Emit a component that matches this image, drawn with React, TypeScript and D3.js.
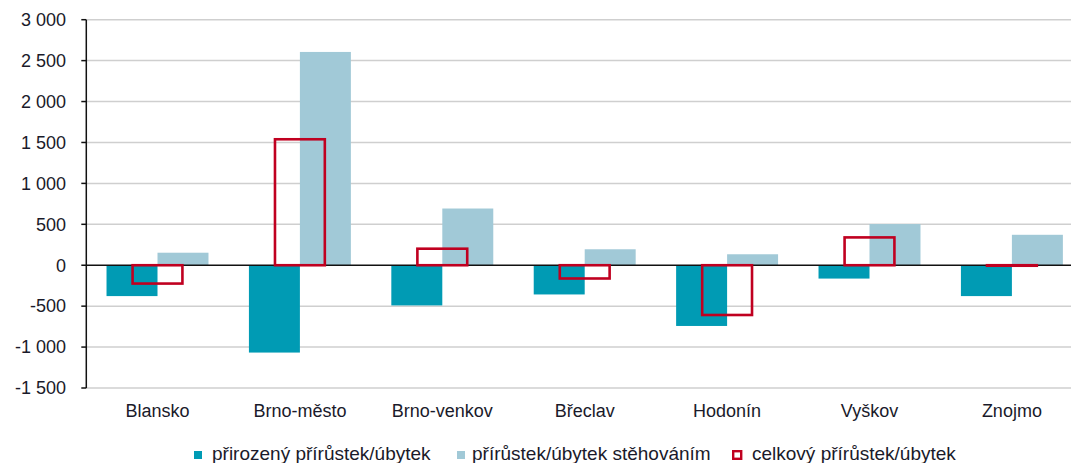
import React from "react";
import * as d3 from "d3";

const categories = ["Blansko", "Brno-město", "Brno-venkov", "Břeclav", "Hodonín", "Vyškov", "Znojmo"];
const natural = [-377, -1067, -491, -357, -742, -163, -377];
const migration = [153, 2606, 693, 195, 134, 503, 372];
const total = [-224, 1539, 202, -162, -608, 340, -5];
const yTicks = [-1500, -1000, -500, 0, 500, 1000, 1500, 2000, 2500, 3000];
const seriesNames = ["přirozený přírůstek/úbytek", "přírůstek/úbytek stěhováním", "celkový přírůstek/úbytek"];

const W = 1071;
const H = 463;
const left = 86.3;
const step = 142.4;
const FONT = "'Liberation Sans', Arial, sans-serif";
const C_NAT = "#009bb4";
const C_MIG = "#a1c9d7";
const C_TOT = "#c00020";

function fmt(v: number): string {
  const s = Math.abs(v).toString().replace(/\B(?=(\d{3})+(?!\d))/g, " ");
  return (v < 0 ? "-" : "") + s;
}

export default function App() {
  const x = d3.scaleBand<string>().domain(categories).range([left, left + step * categories.length]).padding(0);
  const y = d3.scaleLinear().domain([-1500, 3000]).range([388, 19.7]);
  const bw = x.bandwidth();
  const barW = bw * 0.358;
  const totW = bw * 0.35;
  const y0 = y(0);

  const legendX = [194, 457, 732];
  const legendTextX = [212, 472, 752];

  return (
    <svg width={W} height={H} style={{ position: "absolute", left: 0, top: 0, background: "#fff" }} fontFamily={FONT}>
      {yTicks.filter((t) => t !== 0).map((t) => (
        <line key={"g" + t} x1={left} x2={W} y1={y(t)} y2={y(t)} stroke="#cfcfcf" strokeWidth={1.5} />
      ))}
      {categories.map((c, i) => {
        const cx = (x(c) as number) + bw / 2;
        return (
          <g key={c}>
            <rect x={cx - barW} y={Math.min(y(natural[i]), y0)} width={barW} height={Math.abs(y(natural[i]) - y0)} fill={C_NAT} />
            <rect x={cx} y={Math.min(y(migration[i]), y0)} width={barW} height={Math.abs(y(migration[i]) - y0)} fill={C_MIG} />
          </g>
        );
      })}
      <line x1={left} x2={W} y1={y0} y2={y0} stroke="#111" strokeWidth={1.5} />
      {categories.map((c, i) => {
        const cx = (x(c) as number) + bw / 2;
        const h = Math.abs(y(total[i]) - y0);
        return (
          <rect key={"t" + c} x={cx - totW / 2} y={Math.min(y(total[i]), y0)} width={totW} height={Math.max(h, 0.5)} fill="none" stroke={C_TOT} strokeWidth={2.6} />
        );
      })}
      <line x1={left} x2={left} y1={y(3000)} y2={y(-1500)} stroke="#111" strokeWidth={1.5} />
      {yTicks.map((t) => (
        <g key={"t" + t}>
          <line x1={left - 5} x2={left} y1={y(t)} y2={y(t)} stroke="#111" strokeWidth={1.5} />
          <text x={66} y={y(t)} dy="0.35em" textAnchor="end" fontSize={18} fill="#1a1a2a">{fmt(t)}</text>
        </g>
      ))}
      {categories.map((c) => (
        <text key={"l" + c} x={(x(c) as number) + bw / 2} y={417} textAnchor="middle" fontSize={18} fill="#1a1a2a">{c}</text>
      ))}
      <rect x={legendX[0]} y={451} width={8} height={8} fill={C_NAT} />
      <rect x={legendX[1]} y={451} width={8} height={8} fill={C_MIG} />
      <rect x={legendX[2] + 1.2} y={451.2} width={8} height={7.6} fill="none" stroke={C_TOT} strokeWidth={2.4} />
      {seriesNames.map((s, i) => (
        <text key={s} x={legendTextX[i]} y={460} fontSize={19} fill="#1a1a2a">{s}</text>
      ))}
    </svg>
  );
}
